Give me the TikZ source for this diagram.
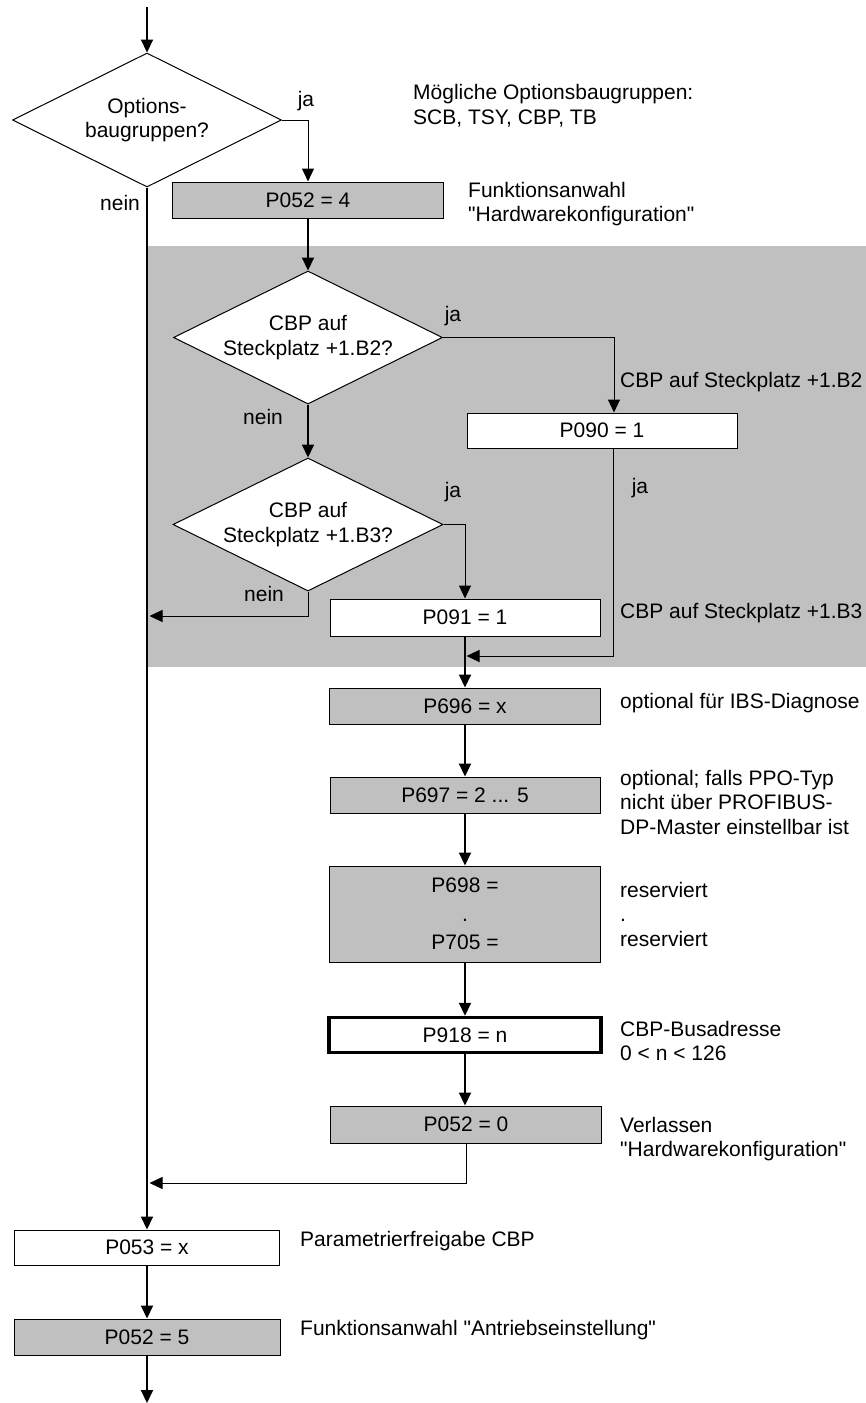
\documentclass[tikz,border=0pt]{standalone}
\usepackage{fontspec}
\setmainfont{Liberation Sans}[Ligatures=TeXOff]
\usetikzlibrary{arrows.meta,shapes.geometric}
\definecolor{bggray}{RGB}{192,192,192}
\begin{document}
\begin{tikzpicture}[x=1pt,y=-1pt,
  every node/.style={font=\fontsize{21}{24.5}\selectfont, inner sep=0pt},
  pbox/.style={draw, line width=1pt, fill=bggray, minimum width=271pt, minimum height=36pt},
  wbox/.style={pbox, fill=white},
  dia/.style={draw, fill=white, shape=diamond, line width=1pt, minimum width=269pt, minimum height=134pt, inner sep=0pt},
  thk/.style={line width=2pt, -{Triangle[width=12pt,length=13pt]}},
  thn/.style={line width=1pt, -{Triangle[width=12pt,length=13pt]}},
  note/.style={anchor=west, align=left},
  lbl/.style={anchor=center}]
\useasboundingbox (0,0) rectangle (866,1403);
% shaded area
\fill[bggray] (148,246) rectangle (866,667);

% nodes
\coordinate (start) at (147,7);
\node[dia] (d1) at (147,120) {};
\node[align=center] (d1t) at (147,120) {Options-\\baugruppen?};
\node[pbox] (b1) at (308,200) {P052 = 4};
\node[dia, minimum height=133pt] (d2) at (308,337.5) {};
\node[align=center] (d2t) at (308,337.5) {CBP auf\\Steckplatz +1.B2?};
\node[dia, minimum height=133pt, minimum width=270pt] (d3) at (308,524.5) {};
\node[align=center] (d3t) at (308,524.5) {CBP auf\\Steckplatz +1.B3?};
\node[wbox, minimum width=270pt, minimum height=35pt] (p090) at (602,430.5) {P090 = 1};
\node[wbox, minimum width=270pt, minimum height=37pt] (p091) at (465,617.5) {P091 = 1};
\node[pbox] (p696) at (465,706) {P696 = x};
\node[pbox, minimum width=270pt] (p697) at (465,795) {P697 = 2 ... 5};
\node[pbox, minimum height=96pt, align=center] (p698) at (465,914) {P698 =\\[4pt].\\[4pt]P705 =};
\node[wbox, line width=3.5pt, minimum width=272pt, minimum height=35pt] (p918) at (465,1035) {P918 = n};
\node[pbox, minimum height=37pt] (p0520) at (466,1124.5) {P052 = 0};
\node[wbox, minimum width=265pt, minimum height=35pt] (p053) at (147,1247.5) {P053 = x};
\node[pbox, minimum width=266pt] (p0525) at (147,1337) {P052 = 5};
\coordinate (ret1) at (149.5,616);
\coordinate (m1) at (466.5,656);
\coordinate (ret2) at (149.5,1183);
\coordinate (stop) at (147,1403);

% labels
\node[lbl] (ja1) at (306,101) {ja};
\node[lbl] (nein1) at (120,203) {nein};
\node[lbl] (ja2) at (453,316) {ja};
\node[lbl] (nein2) at (263,417) {nein};
\node[lbl] (ja3) at (453,492) {ja};
\node[lbl] (nein3) at (264,594) {nein};
\node[lbl] (ja4) at (640,488) {ja};

% notes
\node[note] (t1) at (413,105.5) {Mögliche Optionsbaugruppen:\\SCB, TSY, CBP, TB};
\node[note] (t2) at (468,204) {Funktionsanwahl\\"Hardwarekonfiguration"};
\node[note] (t3) at (620,382) {CBP auf Steckplatz +1.B2};
\node[note] (t4) at (620,613) {CBP auf Steckplatz +1.B3};
\node[note] (t5) at (620,703) {optional für IBS-Diagnose};
\node[note] (t6) at (620,802) {optional; falls PPO-Typ\\nicht über PROFIBUS-\\DP-Master einstellbar ist};
\node[note] (t7) at (620,914) {reserviert\\.\\reserviert};
\node[note] (t8) at (620,1041) {CBP-Busadresse\\0 < n < 126};
\node[note] (t9) at (620,1139) {Verlassen\\"Hardwarekonfiguration"};
\node[note] (t10) at (300,1241) {Parametrierfreigabe CBP};
\node[note] (t11) at (300,1330) {Funktionsanwahl "Antriebseinstellung"};

% connectors
\draw[thk] (start) -- (d1.north);
\draw[thn] (d1.east) -| (b1.north);
\draw[thk] (d1.south) -- (p053.north);
\draw[thk] (b1.south) -- (d2.north);
\draw[thn] (d2.east) -| ([xshift=12pt]p090.north);
\draw[thk] (d2.south) -- (d3.north);
\draw[thn] (d3.east) -| (p091.north);
\draw[thn] (d3.south) |- (ret1);
\draw[thn] ([xshift=11pt]p090.south) |- (m1);
\draw[thk] (p091.south) -- (p696.north);
\draw[thk] (p696.south) -- (p697.north);
\draw[thk] (p697.south) -- (p698.north);
\draw[thk] (p698.south) -- (p918.north);
\draw[thk] (p918.south) -- (p0520.north -| p918.south);
\draw[thn] (p0520.south) |- (ret2);
\draw[thk] (p053.south) -- (p0525.north);
\draw[thk] (p0525.south) -- (stop);
\end{tikzpicture}
\end{document}
